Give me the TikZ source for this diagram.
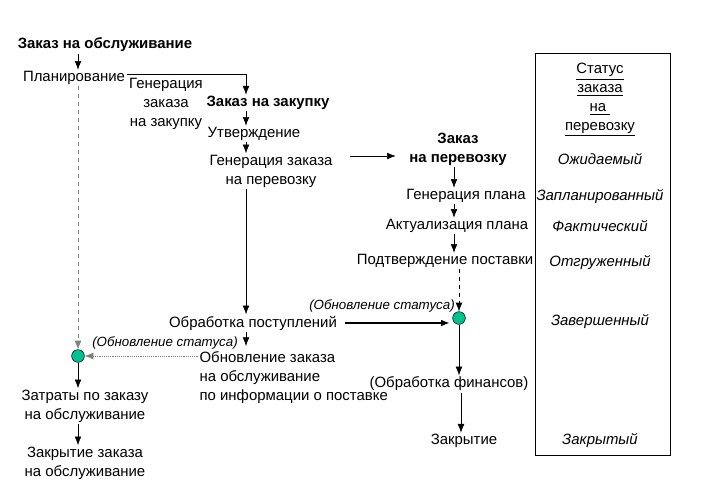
\documentclass[tikz,border=0pt]{standalone}
\usepackage{fontspec}
\setmainfont{Liberation Sans}
\usetikzlibrary{arrows.meta}
\definecolor{evtgreen}{HTML}{00C48F}
\begin{document}
\begin{tikzpicture}[x=0.75pt,y=-0.75pt,
  txt/.style={inner sep=1pt,align=center,font=\fontsize{11.2}{14.2}\selectfont},
  hdr/.style={txt,font=\bfseries\fontsize{11.2}{14.2}\selectfont},
  note/.style={inner sep=1pt,font=\itshape\fontsize{10}{12}\selectfont},
  stat/.style={inner sep=1pt,font=\itshape\fontsize{11.2}{14.2}\selectfont},
  flow/.style={-{Latex[length=6.5pt,width=5pt]}},
  evt/.style={circle,draw,fill=evtgreen,minimum size=9.5pt,inner sep=0pt}]
\useasboundingbox (0,0) rectangle (718,494);
\coordinate (colA) at (78,0);
\coordinate (colB) at (246,0);
\coordinate (colC) at (454,0);
\coordinate (colD) at (461,0);
\coordinate (rowS) at (0,156);
\coordinate (rowP) at (0,74);
\node[hdr] (service) at (105,45) {Заказ на обслуживание};
\node[txt] (plan) at (74,78) {Планирование};
\node[txt] (genpur) at (166,104) {Генерация\\заказа\\на закупку};
\node[hdr] (purchase) at (268,103) {Заказ на закупку};
\node[txt] (approve) at (254,134) {Утверждение};
\node[txt] (genship) at (271,171) {Генерация заказа\\на перевозку};
\node[hdr] (shipment) at (458,149) {Заказ\\на перевозку};
\node[txt] (genplan) at (466,196) {Генерация плана};
\node[txt] (actual) at (457,226) {Актуализация плана};
\node[txt] (confirm) at (445,261) {Подтверждение поставки};
\node[evt] (evR) at (459,318) {};
\node[note] (upR) at (382,306) {(Обновление статуса)};
\node[txt] (receipt) at (253,323) {Обработка поступлений};
\node[txt,align=left,anchor=north west] (update) at (198,350) {Обновление заказа\\на обслуживание\\по информации о поставке};
\node[note] (upL) at (165,343) {(Обновление статуса)};
\node[evt] (evL) at (78,356) {};
\node[txt] (cost) at (85,406) {Затраты по заказу\\на обслуживание};
\node[txt] (close) at (85,463) {Закрытие заказа\\на обслуживание};
\node[txt] (finance) at (449,384) {(Обработка финансов)};
\node[txt] (closing) at (464,441) {Закрытие};
% status column
\draw (535,53) rectangle (670,455);
\node[txt] (sthead) at (600,100) {\underline{Статус}\\\underline{заказа}\\\underline{на }\\\underline{перевозку}};
\node[stat] (st1) at (600,159) {Ожидаемый};
\node[stat] (st2) at (600,197) {Запланированный};
\node[stat] (st3) at (600,226) {Фактический};
\node[stat] (st4) at (600,263) {Отгруженный};
\node[stat] (st5) at (600,322) {Завершенный};
\node[stat] (st6) at (600,441) {Закрытый};
% connectors
\draw[flow] (service.south -| colA) -- (plan.north -| colA);
\draw[flow] (plan.east |- rowP) -| (purchase.north -| colB);
\draw[flow] (purchase.south -| colB) -- (approve.north -| colB);
\draw[flow] (approve.south -| colB) -- (genship.north -| colB);
\draw[flow] (genship.south -| colB) -- (receipt.north -| colB);
\draw[flow,shorten <=12pt,shorten >=9pt] (genship.east |- rowS) -- (shipment.west |- rowS);
\draw[flow] (shipment.south -| colC) -- (genplan.north -| colC);
\draw[flow] (genplan.south -| colC) -- (actual.north -| colC);
\draw[flow] (actual.south -| colC) -- (confirm.north -| colC);
\draw[flow,dashed] (confirm.south -| evR) -- (evR.north);
\draw[flow,thick,shorten <=5pt,shorten >=7pt] (receipt.east) -- (evR.center |- receipt.east);
\draw[flow,shorten >=3pt] (receipt.south -| colB) -- (update.north -| colB);
\draw[flow,densely dotted,gray] (update.north west |- evL) -- (evL.east);
\draw[flow,dashed,gray] (plan.south -| colA) -- (evL.north);
\draw[flow] (evL.south) -- (cost.north -| colA);
\draw[flow] (cost.south -| colA) -- (close.north -| colA);
\draw[flow] (evR.south) -- (finance.north -| evR);
\draw[flow] (finance.south -| colD) -- (closing.north -| colD);
\end{tikzpicture}
\end{document}
